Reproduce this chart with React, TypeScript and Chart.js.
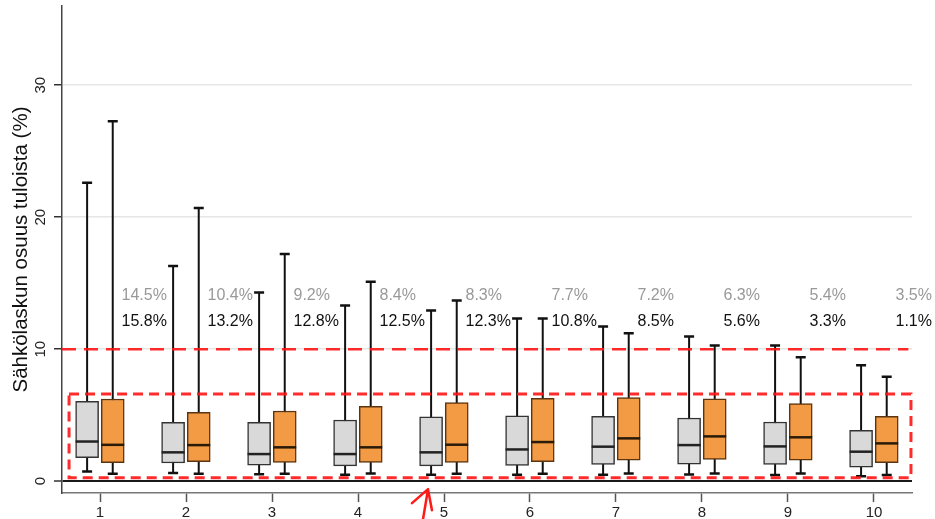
import React, { useEffect, useRef } from "react";
import { Chart, registerables } from "chart.js";

Chart.register(...registerables);

const categories = [1, 2, 3, 4, 5, 6, 7, 8, 9, 10];

const greyLow = [0.72, 0.61, 0.53, 0.48, 0.48, 0.48, 0.48, 0.51, 0.46, 0.36];
const greyQ1 = [1.77, 1.37, 1.21, 1.16, 1.16, 1.19, 1.27, 1.29, 1.27, 1.06];
const greyMed = [3.0, 2.18, 2.05, 2.05, 2.18, 2.4, 2.61, 2.73, 2.63, 2.23];
const greyQ3 = [6.05, 4.46, 4.46, 4.63, 4.88, 4.94, 4.91, 4.78, 4.48, 3.85];
const greyHigh = [22.6, 16.3, 14.3, 13.3, 12.93, 12.33, 11.72, 10.96, 10.27, 8.78];

const orangeLow = [0.56, 0.56, 0.56, 0.58, 0.56, 0.56, 0.58, 0.58, 0.58, 0.46];
const orangeQ1 = [1.4, 1.47, 1.42, 1.42, 1.42, 1.47, 1.59, 1.65, 1.59, 1.39];
const orangeMed = [2.75, 2.73, 2.56, 2.56, 2.76, 2.96, 3.24, 3.39, 3.32, 2.86];
const orangeQ3 = [6.22, 5.21, 5.31, 5.67, 5.95, 6.28, 6.33, 6.23, 5.87, 4.91];
const orangeHigh = [27.26, 20.7, 17.2, 15.1, 13.69, 12.33, 11.21, 10.27, 9.39, 7.9];

const greyPct = ["14.5%", "10.4%", "9.2%", "8.4%", "8.3%", "7.7%", "7.2%", "6.3%", "5.4%", "3.5%"];
const blackPct = ["15.8%", "13.2%", "12.8%", "12.5%", "12.3%", "10.8%", "8.5%", "5.6%", "3.3%", "1.1%"];

const yTickValues = [0, 10, 20, 30];
const yTitle = "Sähkölaskun osuus tuloista (%)";

// annotation geometry (data units)
const GREY_OFFSET = -0.15;
const ORANGE_OFFSET = 0.148;
const LABEL_DX = 0.25;
const GREY_LABEL_Y = 13.74;
const BLACK_LABEL_Y = 11.79;
const REF_LINE_Y = 10;
const REF_LINE_X = [0.558, 10.4];
const RECT_X = [0.64, 10.43];
const RECT_Y = [0.25, 6.6];
const ARROW_PTS = [
  [4.628, -1.67],
  [4.814, -0.61],
  [4.86, -2.2],
];
const ARROW_SHAFT = [
  [4.814, -0.61],
  [4.756, -2.885],
];

const FONT = '"Liberation Sans", Arial, Helvetica, sans-serif';
const BOX_W = 23;

const boxPlugin = {
  id: "boxExtras",
  beforeDatasetsDraw(chart: any) {
    const { ctx, scales } = chart;
    const xs = scales.x;
    const ys = scales.y;
    ctx.save();
    ctx.strokeStyle = "#111";
    const groups = [
      { off: GREY_OFFSET, low: greyLow, high: greyHigh },
      { off: ORANGE_OFFSET, low: orangeLow, high: orangeHigh },
    ];
    groups.forEach((g) => {
      categories.forEach((c, i) => {
        const x = xs.getPixelForValue(c + g.off);
        const yl = ys.getPixelForValue(g.low[i]);
        const yh = ys.getPixelForValue(g.high[i]);
        ctx.lineWidth = 2;
        ctx.beginPath();
        ctx.moveTo(x, yl);
        ctx.lineTo(x, yh);
        ctx.stroke();
        ctx.lineWidth = 2.5;
        ctx.beginPath();
        ctx.moveTo(x - 5, yl);
        ctx.lineTo(x + 5, yl);
        ctx.moveTo(x - 5, yh);
        ctx.lineTo(x + 5, yh);
        ctx.stroke();
      });
    });
    ctx.restore();
  },
  afterDatasetsDraw(chart: any) {
    const { ctx, scales } = chart;
    const xs = scales.x;
    const ys = scales.y;
    ctx.save();
    // medians
    const meds = [
      { off: GREY_OFFSET, med: greyMed, col: "#222" },
      { off: ORANGE_OFFSET, med: orangeMed, col: "#2a1a08" },
    ];
    meds.forEach((g) => {
      categories.forEach((c, i) => {
        const x = xs.getPixelForValue(c + g.off);
        const y = ys.getPixelForValue(g.med[i]);
        ctx.strokeStyle = g.col;
        ctx.lineWidth = 2.5;
        ctx.beginPath();
        ctx.moveTo(x - BOX_W / 2, y);
        ctx.lineTo(x + BOX_W / 2, y);
        ctx.stroke();
      });
    });
    // percentage labels
    ctx.font = `16px ${FONT}`;
    ctx.textAlign = "left";
    ctx.textBaseline = "alphabetic";
    categories.forEach((c, i) => {
      const x = xs.getPixelForValue(c + LABEL_DX);
      ctx.fillStyle = "#999999";
      ctx.fillText(greyPct[i], x, ys.getPixelForValue(GREY_LABEL_Y));
      ctx.fillStyle = "#111111";
      ctx.fillText(blackPct[i], x, ys.getPixelForValue(BLACK_LABEL_Y));
    });
    // red dashed reference line
    ctx.strokeStyle = "rgba(255,20,20,0.9)";
    ctx.lineWidth = 2.5;
    ctx.setLineDash([14, 8]);
    ctx.beginPath();
    const ry = ys.getPixelForValue(REF_LINE_Y);
    ctx.moveTo(xs.getPixelForValue(REF_LINE_X[0]), ry);
    ctx.lineTo(xs.getPixelForValue(REF_LINE_X[1]), ry);
    ctx.stroke();
    // red dashed rectangle
    ctx.lineWidth = 3;
    ctx.setLineDash([10, 6]);
    const rx0 = xs.getPixelForValue(RECT_X[0]);
    const rx1 = xs.getPixelForValue(RECT_X[1]);
    const ry0 = ys.getPixelForValue(RECT_Y[1]);
    const ry1 = ys.getPixelForValue(RECT_Y[0]);
    ctx.strokeRect(rx0, ry0, rx1 - rx0, ry1 - ry0);
    ctx.setLineDash([]);
    // red arrow
    ctx.strokeStyle = "#ff1a1a";
    ctx.lineWidth = 2.5;
    ctx.lineCap = "round";
    ctx.lineJoin = "round";
    ctx.beginPath();
    ARROW_PTS.forEach((p, k) => {
      const px = xs.getPixelForValue(p[0]);
      const py = ys.getPixelForValue(p[1]);
      if (k === 0) ctx.moveTo(px, py);
      else ctx.lineTo(px, py);
    });
    ctx.moveTo(xs.getPixelForValue(ARROW_SHAFT[0][0]), ys.getPixelForValue(ARROW_SHAFT[0][1]));
    ctx.lineTo(xs.getPixelForValue(ARROW_SHAFT[1][0]), ys.getPixelForValue(ARROW_SHAFT[1][1]));
    ctx.stroke();
    // y tick labels (rotated) and y title
    ctx.fillStyle = "#222";
    ctx.font = `15px ${FONT}`;
    ctx.textAlign = "center";
    ctx.textBaseline = "alphabetic";
    yTickValues.forEach((v) => {
      const py = ys.getPixelForValue(v);
      ctx.save();
      ctx.translate(44.5, py);
      ctx.rotate(-Math.PI / 2);
      ctx.fillText(String(v), 0, 0);
      ctx.restore();
    });
    ctx.fillStyle = "#111";
    ctx.font = `20.5px ${FONT}`;
    ctx.save();
    ctx.translate(26.5, (chart.chartArea.top + chart.chartArea.bottom) / 2);
    ctx.rotate(-Math.PI / 2);
    ctx.fillText(yTitle, 0, 0);
    ctx.restore();
    ctx.restore();
  },
};

export default function App() {
  const ref = useRef<HTMLCanvasElement | null>(null);
  useEffect(() => {
    if (!ref.current) return;
    const chart = new Chart(ref.current, {
      type: "bar",
      data: {
        datasets: [
          {
            label: "grey",
            data: categories.map((c, i) => ({ x: c + GREY_OFFSET, y: [greyQ1[i], greyQ3[i]] })) as any,
            backgroundColor: "#d9d9d9",
            borderColor: "#333333",
            borderWidth: 1.5,
            borderSkipped: false,
            barThickness: BOX_W,
            grouped: false,
          },
          {
            label: "orange",
            data: categories.map((c, i) => ({ x: c + ORANGE_OFFSET, y: [orangeQ1[i], orangeQ3[i]] })) as any,
            backgroundColor: "#f39a45",
            borderColor: "#5a3510",
            borderWidth: 1.5,
            borderSkipped: false,
            barThickness: BOX_W,
            grouped: false,
          },
        ],
      },
      options: {
        responsive: false,
        animation: false,
        layout: { padding: { top: 6, right: 23, left: 0, bottom: 0 } },
        plugins: { legend: { display: false }, tooltip: { enabled: false }, title: { display: false } },
        scales: {
          x: {
            type: "linear",
            min: 0.558,
            max: 10.442,
            offset: false,
            afterBuildTicks: (s: any) => {
              s.ticks = categories.map((v) => ({ value: v }));
            },
            afterFit: (s: any) => {
              s.height = 26;
            },
            grid: {
              offset: false,
              drawOnChartArea: false,
              drawTicks: true,
              tickLength: 9,
              tickColor: "#555",
              tickWidth: 1.5,
            },
            border: { display: true, color: "#777", width: 1.5 },
            ticks: {
              color: "#222",
              font: { family: FONT, size: 15 },
              padding: 2,
              maxRotation: 0,
              autoSkip: false,
              callback: (v: any) => String(v),
            },
          },
          y: {
            type: "linear",
            min: -0.9,
            max: 36.0,
            afterBuildTicks: (s: any) => {
              s.ticks = yTickValues.map((v) => ({ value: v }));
            },
            afterFit: (s: any) => {
              s.width = 62;
            },
            grid: {
              color: (c: any) => (c.tick && c.tick.value === 0 ? "#1a1a1a" : "#e6e6e6"),
              lineWidth: (c: any) => (c.tick && c.tick.value === 0 ? 2 : 1.5),
              drawTicks: true,
              tickLength: 8,
              tickColor: "#333",
              tickWidth: 1.5,
            },
            border: { display: true, color: "#444", width: 1.5 },
            ticks: { display: false },
          },
        },
      },
      plugins: [boxPlugin],
    });
    return () => chart.destroy();
  }, []);
  return (
    <div style={{ position: "fixed", left: 0, top: 0, width: 935, height: 519, background: "#fff" }}>
      <canvas ref={ref} width={935} height={519} style={{ width: 935, height: 519, display: "block" }} />
    </div>
  );
}
